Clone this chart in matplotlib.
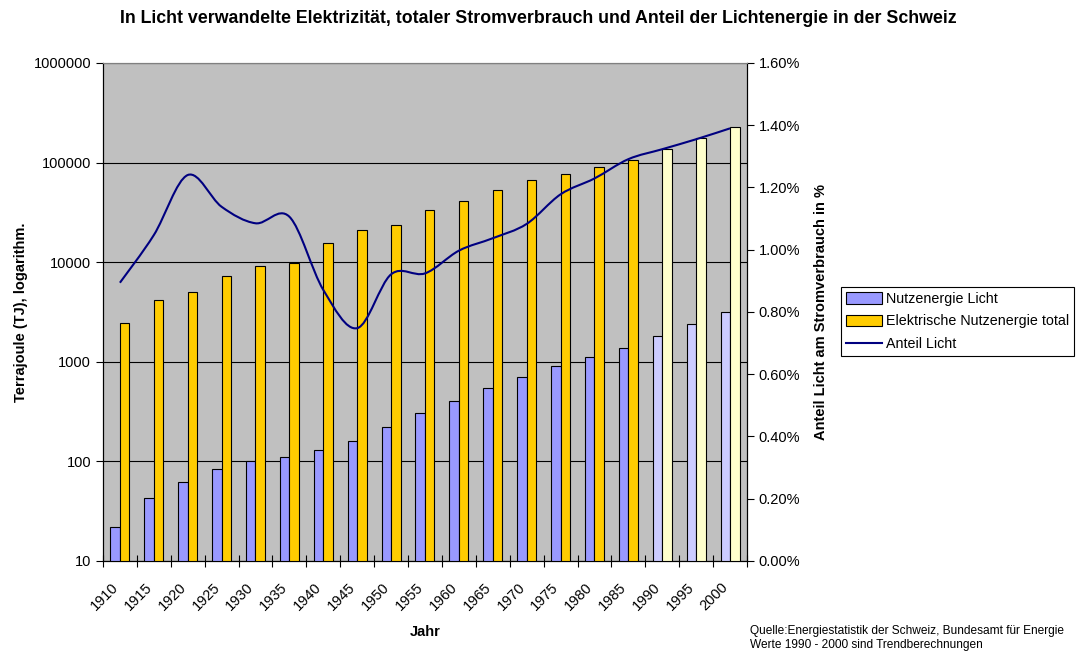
import numpy as np
import matplotlib
matplotlib.use('Agg')
import matplotlib.pyplot as plt
import matplotlib.transforms as mtransforms
from matplotlib.path import Path
from matplotlib.patches import PathPatch, Patch
from matplotlib.lines import Line2D
from matplotlib.ticker import FixedLocator, FuncFormatter, NullLocator

plt.rcParams['font.family'] = ['Liberation Sans', 'DejaVu Sans']

# data
years = [1910, 1915, 1920, 1925, 1930, 1935, 1940, 1945, 1950, 1955,
         1960, 1965, 1970, 1975, 1980, 1985, 1990, 1995, 2000]
licht = [22, 43, 62, 83, 100, 110, 129, 160, 221, 308,
         407, 546, 703, 907, 1125, 1386, 1830, 2400, 3140]
total = [2440, 4170, 5060, 7320, 9230, 9890, 15480, 21050, 23470, 33430,
         41420, 53460, 66400, 76850, 90940, 105400, 136000, 175400, 226000]
anteil = [0.894, 1.047, 1.240, 1.138, 1.085, 1.106, 0.871, 0.748, 0.921, 0.924,
          0.997, 1.037, 1.083, 1.178, 1.229, 1.291, 1.323, 1.355, 1.390]
trend_from = 1990   # values from here on are trend estimates

x = np.arange(len(years))
is_trend = np.array(years) >= trend_from
col_licht = np.where(is_trend, '#CCCCFF', '#9999FF')
col_total = np.where(is_trend, '#FFFFCC', '#FFCC00')

fig = plt.figure(figsize=(10.77, 6.52), dpi=100)
ax = fig.add_axes([0.0956, 0.1396, 0.598, 0.7638])
ax.set_facecolor('#C0C0C0')
ax.set_yscale('log')
ax.set_ylim(10, 1e6)
ax.set_xlim(-0.5, len(years) - 0.5)

w = 0.28
ax.bar(x - w / 2, licht, w, color=col_licht, edgecolor='black', linewidth=0.8, zorder=3)
ax.bar(x + w / 2, total, w, color=col_total, edgecolor='black', linewidth=0.8, zorder=3)

ax.yaxis.set_major_locator(FixedLocator([10, 100, 1000, 1e4, 1e5, 1e6]))
ax.yaxis.set_minor_locator(NullLocator())
ax.yaxis.set_major_formatter(FuncFormatter(lambda v, p: f'{v:.0f}'))
ax.grid(axis='y', color='black', linewidth=0.8, zorder=1)
ax.set_axisbelow(True)

ax.xaxis.set_major_locator(FixedLocator(np.arange(len(years) + 1) - 0.5))
ax.xaxis.set_major_formatter(FuncFormatter(lambda v, p: ''))
ax.set_xticks(x, [str(y) for y in years], minor=True)
ax.tick_params(axis='x', which='major', direction='inout', length=8, width=0.8)
ax.tick_params(axis='x', which='minor', length=0, labelsize=10.5, pad=14)
shift = mtransforms.ScaledTranslation(-9 / 100, 0, fig.dpi_scale_trans)
for lab in ax.get_xticklabels(minor=True):
    lab.set_rotation(45)
    lab.set_ha('right')
    lab.set_va('top')
    lab.set_rotation_mode('anchor')
    lab.set_transform(lab.get_transform() + shift)
ax.tick_params(axis='y', direction='out', length=5, width=0.8, labelsize=10.5)

for s in ['left', 'bottom']:
    ax.spines[s].set_color('black')
ax.spines['top'].set_color('#808080')

ax.set_ylabel('Terrajoule (TJ), logarithm.', fontsize=10.5, fontweight='bold', labelpad=4)
fig.text(0.3946, 0.0307, 'Jahr', ha='center', va='center', fontsize=10.5, fontweight='bold')

# right axis: share of light, smoothed line like Excel
ax2 = ax.twinx()
ax2.set_ylim(0, 1.6)
ax2.set_yticks(np.arange(0, 1.61, 0.2))
ax2.yaxis.set_major_formatter(FuncFormatter(lambda v, p: f'{v:.2f}%'))
ax2.tick_params(axis='y', direction='out', length=5, width=0.8, labelsize=10.5)
ax2.spines['right'].set_color('black')
ax2.spines['top'].set_color('#808080')
ax2.set_ylabel('Anteil Licht am Stromverbrauch in %', fontsize=10.5,
               fontweight='bold', labelpad=10)

pts = np.column_stack([x, anteil]).astype(float)
ext = np.vstack([pts[0], pts, pts[-1]])
verts = [tuple(pts[0])]
codes = [Path.MOVETO]
for i in range(len(pts) - 1):
    p0, p1, p2, p3 = ext[i], ext[i + 1], ext[i + 2], ext[i + 3]
    c1 = p1 + (p2 - p0) / 6
    c2 = p2 - (p3 - p1) / 6
    verts += [tuple(c1), tuple(c2), tuple(p2)]
    codes += [Path.CURVE4] * 3
ax2.add_patch(PathPatch(Path(verts, codes), facecolor='none', edgecolor='#000080',
                        linewidth=1.5, zorder=5))

fig.text(0.5, 0.972, 'In Licht verwandelte Elektrizität, totaler Stromverbrauch und Anteil der '
         'Lichtenergie in der Schweiz', ha='center', va='center', fontsize=12.8,
         fontweight='bold')

handles = [Patch(facecolor='#9999FF', edgecolor='black', linewidth=0.8),
           Patch(facecolor='#FFCC00', edgecolor='black', linewidth=0.8),
           Line2D([], [], color='#000080', linewidth=1.5)]
labels = ['Nutzenergie Licht', 'Elektrische Nutzenergie total', 'Anteil Licht']
leg = fig.legend(handles, labels, loc='upper left', bbox_to_anchor=(0.781, 0.560),
                 fontsize=10.3, frameon=True, fancybox=False, edgecolor='black',
                 framealpha=1, borderaxespad=0, handlelength=2.5, handleheight=0.9,
                 handletextpad=0.3, labelspacing=0.6, borderpad=0.35)
leg.get_frame().set_linewidth(0.8)

src = ['Quelle:Energiestatistik der Schweiz, Bundesamt für Energie',
       'Werte 1990 - 2000 sind Trendberechnungen']
fig.text(0.696, 0.0322, src[0], fontsize=8.6, va='center')
fig.text(0.696, 0.0107, src[1], fontsize=8.6, va='center')

fig.savefig('out.png', dpi=100)
